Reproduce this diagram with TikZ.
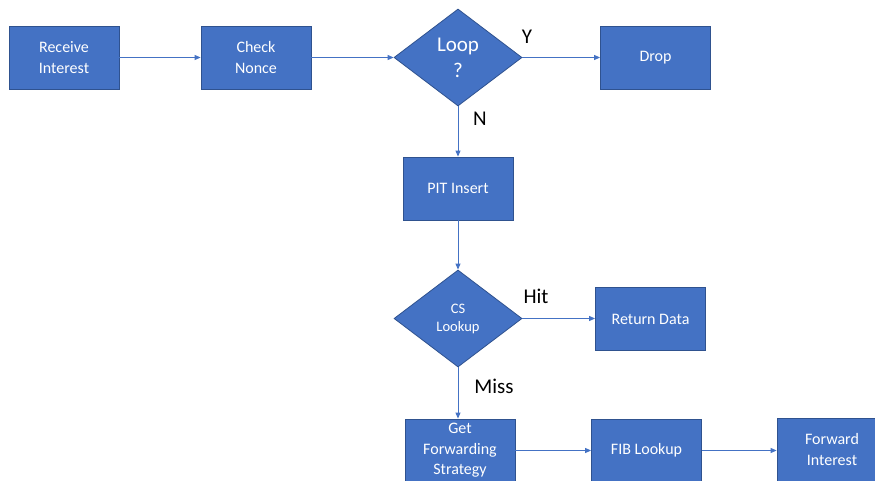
\documentclass[tikz,border=0pt]{standalone}
\usepackage{fontspec}
\setmainfont{Carlito}
\usetikzlibrary{shapes.geometric,arrows.meta}
\definecolor{boxblue}{HTML}{4472C4}
\definecolor{boxedge}{HTML}{2F528F}
\begin{document}
\begin{tikzpicture}[x=1pt,y=-1pt,
  stepbox/.style={rectangle, draw=boxedge, line width=0.8pt, fill=boxblue,
    text=white, minimum width=110pt, minimum height=63pt, inner sep=0pt,
    align=center, font=\fontsize{16}{20.5}\selectfont},
  decision/.style={diamond, draw=boxedge, line width=0.8pt, fill=boxblue,
    text=white, minimum width=128pt, minimum height=97pt, inner sep=0pt,
    align=center},
  flow/.style={draw=boxblue, line width=0.9pt, -{Triangle[length=6pt,width=5pt]}},
  tag/.style={font=\fontsize{21}{24}\selectfont, text=black}]
  \useasboundingbox (0,0) rectangle (875,481);
  \clip (0,0) rectangle (875,481);

  % top row
  \node[stepbox] (recv)  at (64,57.5)  {Receive\\Interest};
  \node[stepbox] (nonce) at (256,57.5) {Check\\Nonce};
  \node[decision, font=\fontsize{21}{26}\selectfont] (loop) at (458,57.5) {Loop\\?};
  \node[stepbox] (drop)  at (655.5,57.5) {Drop};

  % middle column
  \node[stepbox] (pit) at (458,188.5) {PIT Insert};
  \node[decision, font=\fontsize{14.5}{18}\selectfont] (cs) at (458,318.5) {CS\\Lookup};
  \node[stepbox] (ret) at (650.5,319) {Return Data};

  % bottom row
  \node[stepbox] (strat) at (460,450.5) {Get\\Forwarding\\Strategy};
  \node[stepbox] (fib)   at (646.5,450.5) {FIB Lookup};
  \node[stepbox] (fwd)   at (832,449.5) {Forward\\Interest};

  % branch labels
  \node[tag] (ylab) at (527,37) {Y};
  \node[tag] (nlab) at (480,119) {N};
  \node[tag] (hitlab) at (536,296) {Hit};
  \node[tag] (misslab) at (494,386) {Miss};

  % connectors
  \draw[flow] (recv) -- (nonce);
  \draw[flow] (nonce) -- (loop);
  \draw[flow] (loop) -- (drop);
  \draw[flow] (loop) -- (pit);
  \draw[flow] (pit) -- (cs);
  \draw[flow] (cs) -- (ret.west |- cs.east);
  \draw[flow] (cs.south) -- (cs.south |- strat.north);
  \draw[flow] (strat.east |- fib.west) -- (fib.west);
  \draw[flow] (fib.east) -- (fwd.west |- fib.east);
\end{tikzpicture}
\end{document}
